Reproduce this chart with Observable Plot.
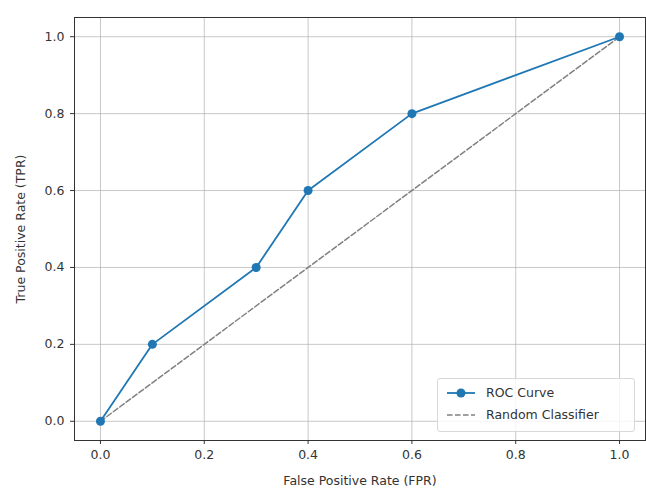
<!DOCTYPE html>
<html><head><meta charset="utf-8">
<script src="https://cdn.jsdelivr.net/npm/d3@7"></script>
<script src="https://cdn.jsdelivr.net/npm/@observablehq/plot@0.6"></script>
<style>
body{margin:0;background:#fff;font-family:"DejaVu Sans",sans-serif;}
#wrap{position:relative;width:646px;height:488px;}
#legend{position:absolute;left:437px;top:378px;width:198px;height:54px;border:1px solid #d8d8d8;border-radius:3px;background:rgba(255,255,255,0.8);font-size:12.5px;color:#333;box-sizing:border-box;}
#legend .row{position:absolute;left:8px;display:flex;align-items:center;}
#legend svg{margin-right:10px;}
</style></head>
<body><div id="wrap"></div>
<script>
const fpr = [0.0, 0.1, 0.3, 0.4, 0.6, 1.0];
const tpr = [0.0, 0.2, 0.4, 0.6, 0.8, 1.0];
const randX = [0, 1];
const randY = [0, 1];
const ticks = [0, 0.2, 0.4, 0.6, 0.8, 1.0];
const seriesNames = ["ROC Curve", "Random Classifier"];

const roc = fpr.map((x, i) => ({x, y: tpr[i]}));
const rnd = randX.map((x, i) => ({x, y: randY[i]}));

const chart = Plot.plot({
  width: 646, height: 488,
  marginLeft: 74, marginRight: 1, marginTop: 17, marginBottom: 48,
  style: {fontFamily: "DejaVu Sans, sans-serif", fontSize: "12.5px", color: "#333", background: "white"},
  x: {domain: [-0.05, 1.05], ticks, tickFormat: d3.format(".1f"), label: "False Positive Rate (FPR)", labelArrow: "none", labelAnchor: "center", labelOffset: 44, tickSize: 4, tickPadding: 6},
  y: {domain: [-0.05, 1.05], ticks, tickFormat: d3.format(".1f"), label: "True Positive Rate (TPR)", labelArrow: "none", labelAnchor: "center", labelOffset: 58, tickSize: 4, tickPadding: 6},
  marks: [
    Plot.gridX(ticks, {stroke: "#b0b0b0", strokeOpacity: 0.7, strokeWidth: 1}),
    Plot.gridY(ticks, {stroke: "#b0b0b0", strokeOpacity: 0.7, strokeWidth: 1}),
    Plot.line(rnd, {x: "x", y: "y", stroke: "gray", strokeWidth: 1.5, strokeDasharray: "5.5,2.5"}),
    Plot.line(roc, {x: "x", y: "y", stroke: "#1f77b4", strokeWidth: 1.8}),
    Plot.dot(roc, {x: "x", y: "y", fill: "#1f77b4", r: 4.5}),
    Plot.frame({stroke: "#333", strokeWidth: 1})
  ]
});
document.getElementById("wrap").appendChild(chart);

const lg = document.createElement("div");
lg.id = "legend";
lg.innerHTML = `
<div class="row" style="top:6px"><svg width="30" height="14"><line x1="1" y1="7" x2="29" y2="7" stroke="#1f77b4" stroke-width="1.8"/><circle cx="15" cy="7" r="4.5" fill="#1f77b4"/></svg><span>${seriesNames[0]}</span></div>
<div class="row" style="top:28px"><svg width="30" height="14"><line x1="1" y1="7" x2="29" y2="7" stroke="gray" stroke-width="1.5" stroke-dasharray="5.5,2.5"/></svg><span>${seriesNames[1]}</span></div>`;
document.getElementById("wrap").appendChild(lg);
</script></body></html>
